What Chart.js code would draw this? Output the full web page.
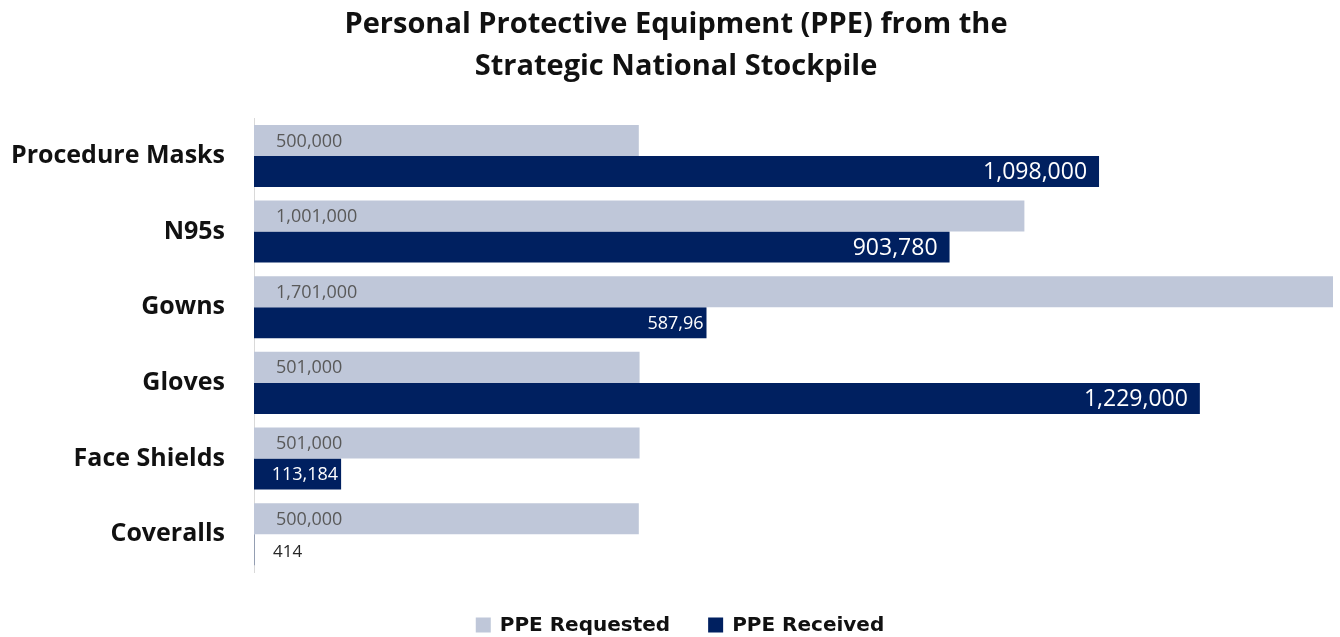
<!DOCTYPE html>
<html>
<head>
<meta charset="utf-8">
<script src="https://cdn.jsdelivr.net/npm/chart.js@4/dist/chart.umd.min.js"></script>
<style>
  html, body { margin: 0; padding: 0; background: #fff; }
  #wrap { width: 1340px; height: 637px; }
</style>
</head>
<body>
<div id="wrap"><canvas id="chart" width="1340" height="637"></canvas></div>
<script>
const categories = ['Procedure Masks', 'N95s', 'Gowns', 'Gloves', 'Face Shields', 'Coveralls'];
const requested = [500000, 1001000, 1701000, 501000, 501000, 500000];
const received = [1098000, 903780, 587960, 1229000, 113184, 414];
// label text as printed on the source chart (one is cut short there)
const receivedText = ['1,098,000', '903,780', '587,96', '1,229,000', '113,184', '414'];
const seriesNames = ['PPE Requested', 'PPE Received'];
const titleLines = ['Personal Protective Equipment (PPE) from the', 'Strategic National Stockpile'];

const LIGHT = 'rgb(191,199,217)';
const DARK = 'rgb(0,32,96)';
const FONT = "'Open Sans', 'DejaVu Sans', sans-serif";
const LEGEND_FONT = "bold 20px 'DejaVu Sans', sans-serif";

const fmt = (v) => v.toLocaleString('en-US');

// value labels, placed the way the Excel chart does it
const barLabels = {
  id: 'barLabels',
  afterDatasetsDraw(chart) {
    const { ctx, chartArea } = chart;
    ctx.save();
    ctx.textBaseline = 'middle';
    chart.data.datasets.forEach((ds, di) => {
      chart.getDatasetMeta(di).data.forEach((bar, i) => {
        const left = bar.base;
        const right = Math.min(bar.x, chartArea.right);
        const w = right - left;
        const v = ds.data[i];
        if (di === 0) {
          ctx.font = `18px ${FONT}`;
          ctx.fillStyle = '#595959';
          ctx.textAlign = 'left';
          ctx.fillText(fmt(v), left + 22, bar.y + 1);
        } else if (w > 40) {
          const big = v > 800000;
          ctx.font = `${big ? 23 : 18}px ${FONT}`;
          ctx.fillStyle = '#fff';
          ctx.textAlign = 'right';
          ctx.fillText(receivedText[i], right - (big ? 12 : 3), bar.y + 1);
        } else {
          ctx.font = `17px ${FONT}`;
          ctx.fillStyle = '#262626';
          ctx.textAlign = 'left';
          ctx.fillText(receivedText[i], left + 19, bar.y + 2);
        }
      });
    });
    ctx.restore();
  },
};

// legend drawn by hand so the gap under the plot matches
const bottomLegend = {
  id: 'bottomLegend',
  afterDraw(chart) {
    const { ctx } = chart;
    const box = 15, gap = 9, spacing = 38, cy = 625;
    ctx.save();
    ctx.font = LEGEND_FONT;
    ctx.textBaseline = 'middle';
    ctx.textAlign = 'left';
    const items = chart.data.datasets.map((ds) => ({
      text: ds.label,
      color: ds.backgroundColor,
      w: box + gap + ctx.measureText(ds.label).width,
    }));
    const total = items.reduce((s, it) => s + it.w, 0) + spacing * (items.length - 1);
    let x = chart.width / 2 + 10 - total / 2;
    items.forEach((it) => {
      ctx.fillStyle = it.color;
      ctx.fillRect(x, cy - box / 2, box, box);
      ctx.fillStyle = '#111';
      ctx.fillText(it.text, x + box + gap, cy + 1);
      x += it.w + spacing;
    });
    ctx.restore();
  },
};

new Chart(document.getElementById('chart'), {
  type: 'bar',
  data: {
    labels: categories,
    datasets: [
      { label: seriesNames[0], data: requested, backgroundColor: LIGHT },
      { label: seriesNames[1], data: received, backgroundColor: DARK },
    ],
  },
  options: {
    indexAxis: 'y',
    responsive: false,
    animation: false,
    categoryPercentage: 0.82,
    barPercentage: 1.0,
    layout: {
      padding: { left: 19, right: 7, top: 0, bottom: 65 },
    },
    plugins: {
      tooltip: { enabled: false },
      legend: { display: false },
      title: {
        display: true,
        text: titleLines,
        color: '#111',
        font: { family: FONT, size: 29, weight: 'bold', lineHeight: 1.45 },
        padding: { top: 4, bottom: 30 },
      },
    },
    scales: {
      x: {
        display: false,
        min: 0,
        max: 1402000,
      },
      y: {
        afterFit(scale) {
          scale.width = 235;
          // long category names run into the left padding, don't clip them
          scale._computeLabelArea = () => undefined;
        },
        grid: { display: false, drawTicks: false },
        border: { display: true, color: '#d9d9d9', width: 1 },
        ticks: {
          color: '#111',
          padding: 29,
          font: { family: FONT, size: 25, weight: 'bold' },
        },
      },
    },
  },
  plugins: [barLabels, bottomLegend],
});
</script>
</body>
</html>
